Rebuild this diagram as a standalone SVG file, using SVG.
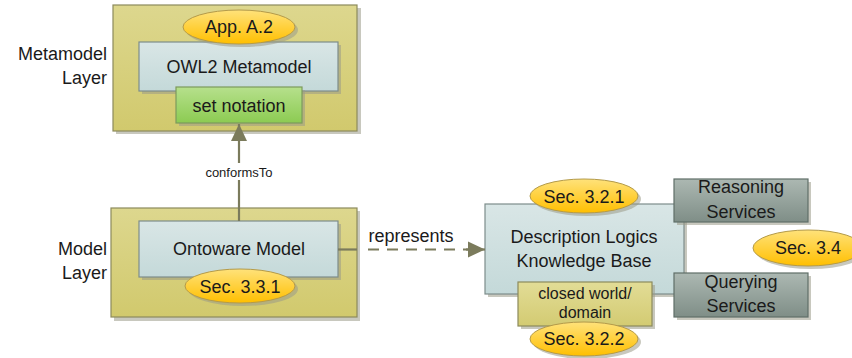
<svg xmlns="http://www.w3.org/2000/svg" width="852" height="358" viewBox="0 0 852 358">
<defs>
<linearGradient id="gLayer" x1="0" y1="0" x2="0" y2="1"><stop offset="0" stop-color="#ddd78e"/><stop offset="1" stop-color="#d1c96d"/></linearGradient>
<linearGradient id="gBlue" x1="0" y1="0" x2="0" y2="1"><stop offset="0" stop-color="#d9e6e6"/><stop offset="1" stop-color="#c4d9d9"/></linearGradient>
<linearGradient id="gGreen" x1="0" y1="0" x2="0" y2="1"><stop offset="0" stop-color="#b6e08c"/><stop offset="1" stop-color="#8ccb52"/></linearGradient>
<linearGradient id="gYellow" x1="0" y1="0" x2="0" y2="1"><stop offset="0" stop-color="#ffe27a"/><stop offset="1" stop-color="#ffbf00"/></linearGradient>
<linearGradient id="gGray" x1="0" y1="0" x2="0" y2="1"><stop offset="0" stop-color="#acb8b2"/><stop offset="1" stop-color="#7f8e87"/></linearGradient>
<linearGradient id="gKhaki" x1="0" y1="0" x2="0" y2="1"><stop offset="0" stop-color="#e2dc96"/><stop offset="1" stop-color="#d3cb72"/></linearGradient>
<marker id="arr" markerUnits="userSpaceOnUse" markerWidth="18" markerHeight="18" viewBox="0 0 18 18" refX="17" refY="9" orient="auto"><path d="M0,1 L17,9 L0,17 Z" fill="#7b7b5c"/></marker>
</defs>
<style>
.layer{fill:url(#gLayer);stroke:#8c8a5c;stroke-width:1.2}
.blue{fill:url(#gBlue);stroke:#7d8d8b;stroke-width:1.2}
.green{fill:url(#gGreen);stroke:#7c9a5c;stroke-width:1.2}
.yel{fill:url(#gYellow);stroke:#b39a4a;stroke-width:1}
.gray{fill:url(#gGray);stroke:#5f6e68;stroke-width:1.2}
.khaki{fill:url(#gKhaki);stroke:#8c8a5c;stroke-width:1.2}
.sh{fill:#9a9a88;opacity:0.55}
.t{font-family:"Liberation Sans",Arial,sans-serif;font-size:18px;fill:#1a1a1a;text-anchor:middle}
.t16{font-family:"Liberation Sans",Arial,sans-serif;font-size:16px;fill:#1a1a1a;text-anchor:middle}
.lbl{font-family:"Liberation Sans",Arial,sans-serif;font-size:18px;fill:#1a1a1a;text-anchor:end}
.small{font-family:"Liberation Sans",Arial,sans-serif;font-size:13px;fill:#1a1a1a;text-anchor:middle}
.ln{fill:none;stroke:#7b7b5c;stroke-width:2.2}
</style>

<g id="metamodel-layer">
<rect class="sh" x="116" y="8" width="245" height="126"/>
<rect class="layer" x="113" y="5" width="244" height="126"/>
<text class="lbl" x="107" y="60">Metamodel</text>
<text class="lbl" x="107" y="84">Layer</text>
</g>
<g id="owl2-metamodel">
<rect class="sh" x="142" y="45" width="199" height="49"/>
<rect class="blue" x="139" y="42" width="199" height="49"/>
<text class="t" x="239" y="73">OWL2 Metamodel</text>
</g>
<g id="app-a2">
<ellipse class="sh" cx="242" cy="30" rx="56" ry="17"/>
<ellipse class="yel" cx="239" cy="27" rx="56" ry="17"/>
<text class="t" x="239" y="33">App. A.2</text>
</g>
<g id="set-notation">
<rect class="sh" x="179" y="90" width="126" height="36"/>
<rect class="green" x="176" y="87" width="126" height="36"/>
<text class="t" x="239" y="112">set notation</text>
</g>

<g id="model-layer">
<rect class="sh" x="114" y="211" width="246" height="110"/>
<rect class="layer" x="111" y="208" width="246" height="109"/>
<text class="lbl" x="107" y="255">Model</text>
<text class="lbl" x="107" y="279">Layer</text>
</g>
<g id="ontoware-model">
<rect class="sh" x="142" y="224" width="199" height="56"/>
<rect class="blue" x="139" y="221" width="199" height="56"/>
<text class="t" x="239" y="255">Ontoware Model</text>
</g>
<g id="sec-331">
<ellipse class="sh" cx="243" cy="289" rx="55" ry="17"/>
<ellipse class="yel" cx="240" cy="286" rx="55" ry="17"/>
<text class="t" x="240" y="293">Sec. 3.3.1</text>
</g>

<g id="dl-kb">
<rect class="sh" x="488" y="207" width="199" height="90"/>
<rect class="blue" x="485" y="204" width="199" height="90"/>
<text class="t" x="584" y="243">Description Logics</text>
<text class="t" x="584" y="267">Knowledge Base</text>
</g>
<g id="sec-321">
<ellipse class="sh" cx="587" cy="199" rx="54" ry="17"/>
<ellipse class="yel" cx="584" cy="196" rx="54" ry="17"/>
<text class="t" x="584" y="203">Sec. 3.2.1</text>
</g>
<g id="closed-world">
<rect class="sh" x="521" y="285" width="134" height="44"/>
<rect class="khaki" x="518" y="282" width="134" height="44"/>
<text class="t16" x="585" y="299">closed world/</text>
<text class="t16" x="585" y="318">domain</text>
</g>
<g id="sec-322">
<ellipse class="sh" cx="587" cy="342" rx="54" ry="17"/>
<ellipse class="yel" cx="584" cy="339" rx="54" ry="17"/>
<text class="t" x="584" y="345">Sec. 3.2.2</text>
</g>
<g id="reasoning-services">
<rect class="sh" x="677" y="182" width="134" height="43"/>
<rect class="gray" x="674" y="179" width="134" height="43"/>
<text class="t" x="741" y="193">Reasoning</text>
<text class="t" x="741" y="218">Services</text>
</g>
<g id="querying-services">
<rect class="sh" x="677" y="276" width="134" height="44"/>
<rect class="gray" x="674" y="273" width="134" height="44"/>
<text class="t" x="741" y="288">Querying</text>
<text class="t" x="741" y="312">Services</text>
</g>
<g id="sec-34">
<ellipse class="sh" cx="811" cy="251" rx="55" ry="18"/>
<ellipse class="yel" cx="808" cy="248" rx="55" ry="18"/>
<text class="t" x="808" y="254">Sec. 3.4</text>
</g>

<g id="connectors">
<path class="ln" d="M239,221 V124" marker-end="url(#arr)"/>
<rect x="200" y="163" width="78" height="17" fill="#ffffff"/>
<text class="small" x="239" y="177">conformsTo</text>
<path class="ln" d="M338,249.5 H357"/>
<path class="ln" d="M368,249.5 H468" stroke-dasharray="11 8"/>
<path class="ln" d="M466,249.5 H485" marker-end="url(#arr)"/>
<text class="t" x="411" y="242">represents</text>
</g>
</svg>
